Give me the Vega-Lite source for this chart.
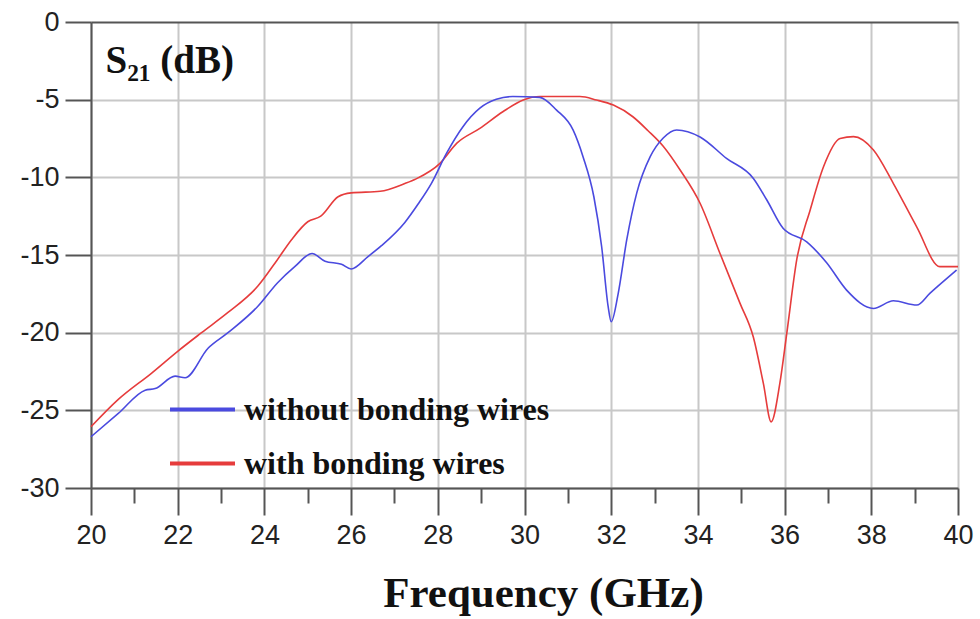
{
  "$schema": "https://vega.github.io/schema/vega-lite/v6.json",
  "width": 867,
  "height": 466,
  "autosize": {"type": "none"},
  "padding": {"left": 91, "top": 22, "right": 22, "bottom": 131},
  "background": "white",
  "config": {"view": {"stroke": null}},
  "data": {"values": [
    {"f": 20.0, "s": -26.06, "series": "with bonding wires"},
    {"f": 20.63, "s": -24.3, "series": "with bonding wires"},
    {"f": 21.4, "s": -22.6, "series": "with bonding wires"},
    {"f": 22.0, "s": -21.2, "series": "with bonding wires"},
    {"f": 22.55, "s": -20.0, "series": "with bonding wires"},
    {"f": 23.16, "s": -18.7, "series": "with bonding wires"},
    {"f": 23.85, "s": -17.0, "series": "with bonding wires"},
    {"f": 24.3, "s": -15.3, "series": "with bonding wires"},
    {"f": 24.63, "s": -14.0, "series": "with bonding wires"},
    {"f": 25.0, "s": -12.86, "series": "with bonding wires"},
    {"f": 25.3, "s": -12.5, "series": "with bonding wires"},
    {"f": 25.7, "s": -11.25, "series": "with bonding wires"},
    {"f": 26.0, "s": -11.0, "series": "with bonding wires"},
    {"f": 26.67, "s": -10.9, "series": "with bonding wires"},
    {"f": 27.24, "s": -10.4, "series": "with bonding wires"},
    {"f": 27.5, "s": -10.1, "series": "with bonding wires"},
    {"f": 28.05, "s": -9.1, "series": "with bonding wires"},
    {"f": 28.44, "s": -7.8, "series": "with bonding wires"},
    {"f": 28.97, "s": -6.85, "series": "with bonding wires"},
    {"f": 29.5, "s": -5.78, "series": "with bonding wires"},
    {"f": 29.97, "s": -5.02, "series": "with bonding wires"},
    {"f": 30.36, "s": -4.8, "series": "with bonding wires"},
    {"f": 31.28, "s": -4.8, "series": "with bonding wires"},
    {"f": 31.66, "s": -5.02, "series": "with bonding wires"},
    {"f": 32.05, "s": -5.35, "series": "with bonding wires"},
    {"f": 32.5, "s": -6.1, "series": "with bonding wires"},
    {"f": 32.85, "s": -7.0, "series": "with bonding wires"},
    {"f": 33.2, "s": -8.0, "series": "with bonding wires"},
    {"f": 33.59, "s": -9.53, "series": "with bonding wires"},
    {"f": 34.05, "s": -11.67, "series": "with bonding wires"},
    {"f": 34.51, "s": -14.9, "series": "with bonding wires"},
    {"f": 34.97, "s": -18.1, "series": "with bonding wires"},
    {"f": 35.28, "s": -20.3, "series": "with bonding wires"},
    {"f": 35.51, "s": -23.27, "series": "with bonding wires"},
    {"f": 35.69, "s": -25.74, "series": "with bonding wires"},
    {"f": 35.89, "s": -23.27, "series": "with bonding wires"},
    {"f": 36.05, "s": -20.05, "series": "with bonding wires"},
    {"f": 36.28, "s": -15.3, "series": "with bonding wires"},
    {"f": 36.59, "s": -12.1, "series": "with bonding wires"},
    {"f": 36.9, "s": -9.3, "series": "with bonding wires"},
    {"f": 37.28, "s": -7.5, "series": "with bonding wires"},
    {"f": 37.59, "s": -7.38, "series": "with bonding wires"},
    {"f": 38.05, "s": -8.24, "series": "with bonding wires"},
    {"f": 38.51, "s": -10.4, "series": "with bonding wires"},
    {"f": 39.05, "s": -13.2, "series": "with bonding wires"},
    {"f": 39.58, "s": -15.75, "series": "with bonding wires"},
    {"f": 40.0, "s": -15.75, "series": "with bonding wires"},
    {"f": 20.0, "s": -26.7, "series": "without bonding wires"},
    {"f": 20.63, "s": -25.2, "series": "without bonding wires"},
    {"f": 21.25, "s": -23.7, "series": "without bonding wires"},
    {"f": 21.48, "s": -23.6, "series": "without bonding wires"},
    {"f": 21.94, "s": -22.8, "series": "without bonding wires"},
    {"f": 22.17, "s": -22.9, "series": "without bonding wires"},
    {"f": 22.7, "s": -21.0, "series": "without bonding wires"},
    {"f": 23.16, "s": -20.0, "series": "without bonding wires"},
    {"f": 23.85, "s": -18.3, "series": "without bonding wires"},
    {"f": 24.3, "s": -16.8, "series": "without bonding wires"},
    {"f": 24.7, "s": -15.75, "series": "without bonding wires"},
    {"f": 25.1, "s": -14.9, "series": "without bonding wires"},
    {"f": 25.4, "s": -15.4, "series": "without bonding wires"},
    {"f": 25.78, "s": -15.6, "series": "without bonding wires"},
    {"f": 26.0, "s": -15.9, "series": "without bonding wires"},
    {"f": 26.39, "s": -15.1, "series": "without bonding wires"},
    {"f": 26.7, "s": -14.4, "series": "without bonding wires"},
    {"f": 27.24, "s": -12.9, "series": "without bonding wires"},
    {"f": 27.55, "s": -11.7, "series": "without bonding wires"},
    {"f": 27.85, "s": -10.4, "series": "without bonding wires"},
    {"f": 28.2, "s": -8.46, "series": "without bonding wires"},
    {"f": 28.58, "s": -6.74, "series": "without bonding wires"},
    {"f": 28.97, "s": -5.55, "series": "without bonding wires"},
    {"f": 29.35, "s": -4.98, "series": "without bonding wires"},
    {"f": 29.73, "s": -4.8, "series": "without bonding wires"},
    {"f": 30.35, "s": -4.85, "series": "without bonding wires"},
    {"f": 30.74, "s": -5.67, "series": "without bonding wires"},
    {"f": 31.12, "s": -6.95, "series": "without bonding wires"},
    {"f": 31.35, "s": -8.67, "series": "without bonding wires"},
    {"f": 31.6, "s": -11.25, "series": "without bonding wires"},
    {"f": 31.78, "s": -14.47, "series": "without bonding wires"},
    {"f": 31.93, "s": -18.33, "series": "without bonding wires"},
    {"f": 32.0, "s": -19.3, "series": "without bonding wires"},
    {"f": 32.16, "s": -17.5, "series": "without bonding wires"},
    {"f": 32.36, "s": -14.0, "series": "without bonding wires"},
    {"f": 32.59, "s": -11.0, "series": "without bonding wires"},
    {"f": 32.9, "s": -8.67, "series": "without bonding wires"},
    {"f": 33.2, "s": -7.47, "series": "without bonding wires"},
    {"f": 33.51, "s": -6.95, "series": "without bonding wires"},
    {"f": 34.05, "s": -7.4, "series": "without bonding wires"},
    {"f": 34.66, "s": -8.78, "series": "without bonding wires"},
    {"f": 35.28, "s": -10.07, "series": "without bonding wires"},
    {"f": 35.59, "s": -11.46, "series": "without bonding wires"},
    {"f": 35.97, "s": -13.3, "series": "without bonding wires"},
    {"f": 36.51, "s": -14.15, "series": "without bonding wires"},
    {"f": 36.97, "s": -15.5, "series": "without bonding wires"},
    {"f": 37.43, "s": -17.26, "series": "without bonding wires"},
    {"f": 38.05, "s": -18.44, "series": "without bonding wires"},
    {"f": 38.51, "s": -17.95, "series": "without bonding wires"},
    {"f": 39.05, "s": -18.22, "series": "without bonding wires"},
    {"f": 39.35, "s": -17.47, "series": "without bonding wires"},
    {"f": 39.97, "s": -15.97, "series": "without bonding wires"}
  ]},
  "mark": {"type": "line", "strokeWidth": 1.6, "interpolate": "monotone"},
  "encoding": {
    "x": {
      "field": "f", "type": "quantitative",
      "scale": {"domain": [20, 40], "nice": false, "zero": false},
      "axis": {
        "values": [20,21,22,23,24,25,26,27,28,29,30,31,32,33,34,35,36,37,38,39,40],
        "labelExpr": "datum.value % 2 === 0 ? datum.label : ''",
        "tickSize": {"condition": {"test": "datum.value % 2 === 0", "value": 27}, "value": 15},
        "gridOpacity": {"condition": {"test": "datum.value % 2 === 0", "value": 1}, "value": 0},
        "grid": true, "gridColor": "#c8c8c8", "gridWidth": 2,
        "domainColor": "#555555", "domainWidth": 2,
        "tickColor": "#555555", "tickWidth": 2,
        "labelFont": "Liberation Sans", "labelFontSize": 27, "labelColor": "#222222",
        "labelPadding": 7, "labelFlush": false, "labelOverlap": false,
        "title": "Frequency (GHz)", "titleFont": "Liberation Serif", "titleFontSize": 43,
        "titleFontWeight": "bold", "titleColor": "#111111", "titlePadding": 24,
        "titleX": 452, "titleAlign": "center"
      }
    },
    "y": {
      "field": "s", "type": "quantitative",
      "scale": {"domain": [-30, 0], "nice": false, "zero": false},
      "axis": {
        "values": [-30,-25,-20,-15,-10,-5,0],
        "labelExpr": "toString(datum.value)",
        "grid": true, "gridWidth": 2,
        "gridColor": {"condition": {"test": "datum.value === 0", "value": "#555555"}, "value": "#c8c8c8"},
        "domainColor": "#555555", "domainWidth": 2,
        "tickColor": "#555555", "tickWidth": 2, "tickSize": 26,
        "labelFont": "Liberation Sans", "labelFontSize": 27, "labelColor": "#222222",
        "labelPadding": 6, "labelFlush": false, "labelOverlap": false,
        "title": "S₂₁ (dB)", "titleFont": "Liberation Serif", "titleFontSize": 39,
        "titleFontWeight": "bold", "titleColor": "#111111",
        "titleAngle": 0, "titleAlign": "left", "titleBaseline": "alphabetic",
        "titleX": 14, "titleY": 50
      }
    },
    "color": {
      "field": "series", "type": "nominal",
      "scale": {"domain": ["without bonding wires", "with bonding wires"], "range": ["#4a4adf", "#e63c3c"]},
      "legend": {
        "orient": "none", "legendX": 77, "legendY": 353, "title": null,
        "symbolType": "stroke", "symbolSize": 4225, "symbolStrokeWidth": 4,
        "labelFont": "Liberation Serif", "labelFontSize": 32, "labelFontWeight": "bold",
        "labelColor": "#111111", "labelOffset": 7, "rowPadding": 3, "labelLimit": 500
      }
    }
  }
}
